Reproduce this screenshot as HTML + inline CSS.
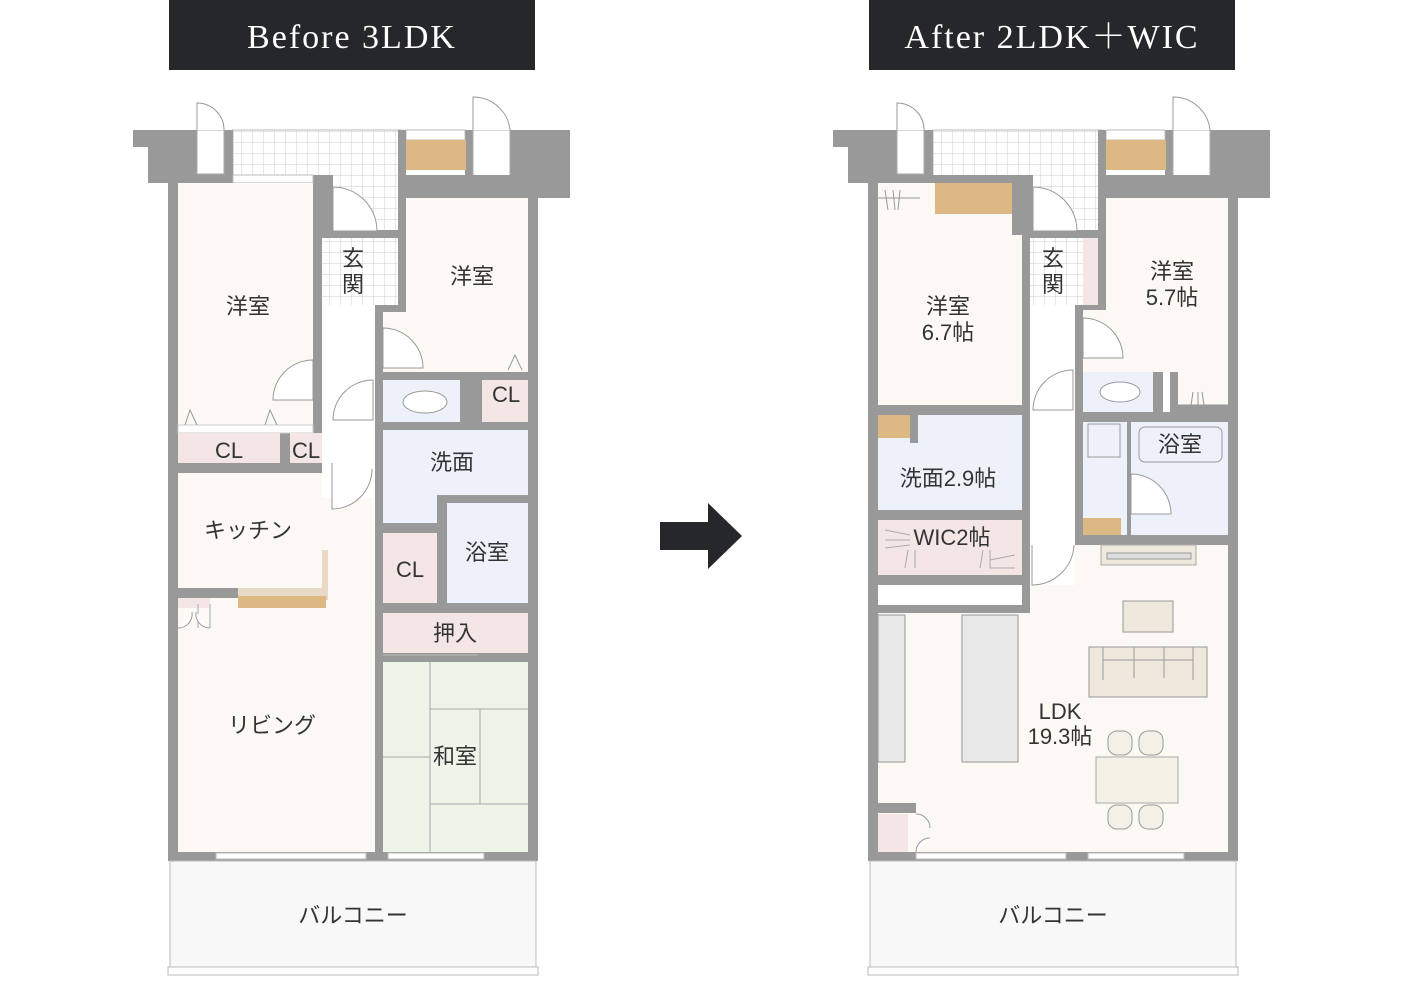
<!DOCTYPE html>
<html><head><meta charset="utf-8"><style>
html,body{margin:0;padding:0;background:#fff}
svg{display:block}
.t{font-family:"Liberation Sans","Noto Sans CJK JP",sans-serif;fill:#333;font-size:22px}
.h{font-family:"Liberation Serif","Noto Serif CJK SC",serif;fill:#fff;font-size:34px;letter-spacing:2px}
</style></head><body>
<svg width="1402" height="996" viewBox="0 0 1402 996" xmlns="http://www.w3.org/2000/svg">
<defs>
<pattern id="tile" width="11" height="11" patternUnits="userSpaceOnUse"><rect width="11" height="11" fill="#fff"/><path d="M11 0V11M0 11H11" stroke="#ccc" stroke-width="1"/></pattern>
<g id="base">
  <rect x="233" y="130" width="170" height="46" fill="url(#tile)" stroke="#bbb"/>
  <path d="M133 130H223V183H148V147H133Z" fill="#999"/>
  <rect x="223" y="130" width="10" height="53" fill="#999"/>
  <rect x="197" y="130" width="27" height="44" fill="#fff" stroke="#aaa"/>
  <path d="M197 130V103A27 27 0 0 1 224 130" fill="#fff" stroke="#999"/>
  <path d="M465 130H570V198H465Z" fill="#999"/>
  <rect x="473" y="130" width="37" height="60" fill="#fff" stroke="#aaa"/>
  <path d="M473 130V97A37 37 0 0 1 510 130" fill="#fff" stroke="#999"/>
  <rect x="406" y="130" width="59" height="10" fill="#fff" stroke="#bbb"/>
  <rect x="168" y="175" width="370" height="686" fill="#999"/>
  <rect x="398" y="130" width="8" height="60" fill="#999"/>
  <rect x="406" y="140" width="60" height="30" fill="#dcb883"/>
  <rect x="333" y="175" width="65" height="55" fill="url(#tile)"/>
  <rect x="170" y="861" width="366" height="106" fill="#f8f8f8" stroke="#bbb"/>
  <rect x="168" y="967" width="370" height="8" fill="#fff" stroke="#bbb"/>
  <text class="t" x="353" y="923" text-anchor="middle">バルコニー</text>
  <rect x="216" y="853" width="150" height="6" fill="#fff" stroke="#bbb"/>
  <rect x="388" y="853" width="96" height="6" fill="#fff" stroke="#bbb"/>
</g>
</defs>

<rect x="169" y="0" width="366" height="70" fill="#25272b"/>
<text class="h" x="352" y="48" text-anchor="middle">Before 3LDK</text>
<rect x="869" y="0" width="366" height="70" fill="#25272b"/>
<text class="h" x="1052" y="48" text-anchor="middle">After 2LDK＋WIC</text>

<path d="M660 522H708V503L742 536L708 569V550H660Z" fill="#25272b"/>

<!-- BEFORE -->
<use href="#base"/>
<g>
  <rect x="233" y="175" width="80" height="8" fill="#fff" stroke="#bbb"/>
  <rect x="178" y="183" width="135" height="242" fill="#fcf8f3"/>
  <rect x="322" y="238" width="76" height="67" fill="url(#tile)"/>
  <rect x="322" y="305" width="53" height="300" fill="#fff"/>
  <path d="M406 198H528V372H383V312H406Z" fill="#fcf8f3"/>
  <rect x="178" y="425" width="135" height="8" fill="#fff" stroke="#ccc"/>
  <rect x="178" y="433" width="102" height="30" fill="#f5e6e6"/>
  <rect x="290" y="433" width="32" height="30" fill="#f5e6e6"/>
  <rect x="383" y="380" width="77" height="42" fill="#edf2fa"/>
  <ellipse cx="425" cy="402" rx="22" ry="11" fill="#fff" stroke="#999"/>
  <rect x="482" y="380" width="46" height="42" fill="#f5e6e6"/>
  <path d="M383 430H528V495H437V523H383Z" fill="#edf2fa"/>
  <rect x="447" y="503" width="81" height="100" fill="#edf2fa"/>
  <rect x="383" y="533" width="54" height="70" fill="#f5e6e6"/>
  <rect x="178" y="473" width="144" height="115" fill="#fcf8f3"/>
  <rect x="322" y="600" width="53" height="252" fill="#fcf8f3"/>
  <rect x="178" y="598" width="195" height="254" fill="#fcf8f3"/>
  <rect x="322" y="498" width="52" height="100" fill="#fcf8f3"/>
  <path d="M238 588H322V550H328V600H238Z" fill="#e8d8c6"/>
  <rect x="238" y="596" width="88" height="12" fill="#dcb883"/>
  <rect x="178" y="598" width="32" height="10" fill="#f5e6e6"/>
  <rect x="383" y="613" width="145" height="40" fill="#f5e6e6"/>
  <rect x="383" y="662" width="145" height="190" fill="#edf4e8"/>
  <g stroke="#aaa" fill="none">
    <path d="M430 662V852M430 709H528M430 757H383M480 709V804M430 804H528"/>
    <path d="M383 655H478" stroke="#bbb"/>
  </g>
  <g fill="#fff" stroke="#999">
    <path d="M333 187A44 44 0 0 1 377 231H333Z"/>
    <path d="M313 360A40 40 0 0 0 273 400H313Z"/>
    <path d="M383 328A40 40 0 0 1 423 368H383Z"/>
    <path d="M373 380A40 40 0 0 0 333 420H373Z"/>
    <path d="M332 463V509A40 40 0 0 0 372 469"/>
  </g>
  <path d="M185 425L190 410L197 425M265 425L270 410L277 425M508 370L515 355L522 370" fill="none" stroke="#999"/>
  <path d="M198 604v24M210 604v24" stroke="#aaa"/>
  <path d="M178 628A14 14 0 0 0 192 612M210 628A14 14 0 0 1 196 612" fill="#fff" stroke="#999"/>
  <text class="t" x="248" y="314" text-anchor="middle">洋室</text>
  <text class="t" x="472" y="284" text-anchor="middle">洋室</text>
  <text class="t" x="353" y="266" text-anchor="middle">玄</text>
  <text class="t" x="353" y="292" text-anchor="middle">関</text>
  <text class="t" x="229" y="458" text-anchor="middle">CL</text>
  <text class="t" x="306" y="458" text-anchor="middle">CL</text>
  <text class="t" x="506" y="402" text-anchor="middle">CL</text>
  <text class="t" x="452" y="470" text-anchor="middle">洗面</text>
  <text class="t" x="487" y="560" text-anchor="middle">浴室</text>
  <text class="t" x="410" y="577" text-anchor="middle">CL</text>
  <text class="t" x="248" y="538" text-anchor="middle">キッチン</text>
  <text class="t" x="455" y="641" text-anchor="middle">押入</text>
  <text class="t" x="272" y="733" text-anchor="middle">リビング</text>
  <text class="t" x="455" y="764" text-anchor="middle">和室</text>
</g>

<!-- AFTER -->
<g transform="translate(700,0)"><use href="#base"/></g>
<g>
  <rect x="878" y="183" width="144" height="222" fill="#fcf8f3"/>
  <rect x="935" y="183" width="77" height="31" fill="#dcb883"/>
  <rect x="1012" y="175" width="18" height="60" fill="#999"/>
  <rect x="1030" y="238" width="68" height="67" fill="url(#tile)"/>
  <rect x="1083" y="238" width="15" height="67" fill="#f5e6e6"/>
  <rect x="1030" y="305" width="45" height="280" fill="#fff"/>
  <path d="M1106 198H1228V405H1178V372H1083V310H1106Z" fill="#fcf8f3"/>
  <rect x="1083" y="372" width="70" height="40" fill="#edf2fa"/>
  <ellipse cx="1120" cy="392" rx="20" ry="10" fill="#fff" stroke="#999"/>
  <rect x="1163" y="372" width="7" height="40" fill="#fff"/>
  <rect x="878" y="415" width="144" height="95" fill="#edf2fa"/>
  <rect x="878" y="415" width="32" height="23" fill="#dcb883"/>
  <rect x="910" y="415" width="8" height="28" fill="#999"/>
  <rect x="878" y="520" width="144" height="55" fill="#f5e6e6"/>
  <rect x="878" y="585" width="144" height="20" fill="#fff"/>
  <rect x="1083" y="422" width="44" height="113" fill="#edf2fa"/>
  <rect x="1088" y="424" width="32" height="33" fill="none" stroke="#999"/>
  <rect x="1083" y="518" width="38" height="17" fill="#dcb883"/>
  <rect x="1131" y="422" width="97" height="113" fill="#edf2fa"/>
  <rect x="1139" y="427" width="83" height="35" rx="6" fill="none" stroke="#999"/>
  <path d="M1030 585H1075V545H1228V852H878V613H1030Z" fill="#fcf8f3"/>
  <rect x="878" y="615" width="27" height="147" fill="#e8e8e8" stroke="#999"/>
  <rect x="962" y="615" width="56" height="147" fill="#e8e8e8" stroke="#999"/>
  <rect x="878" y="814" width="30" height="38" fill="#f5e6e6"/>
  <rect x="868" y="803" width="48" height="10" fill="#999"/>
  <rect x="1101" y="545" width="95" height="20" fill="#efe8dc" stroke="#aaa"/>
  <rect x="1107" y="553" width="84" height="6" fill="#ddd" stroke="#999"/>
  <rect x="1123" y="601" width="50" height="31" fill="#efe8dc" stroke="#999"/>
  <rect x="1089" y="647" width="118" height="50" fill="#efe8dc" stroke="#999"/>
  <path d="M1103 647V680M1193 647V680M1134 647V678M1164 647V678M1103 660H1193" stroke="#999"/>
  <rect x="1096" y="757" width="82" height="46" fill="#f3f1e6" stroke="#aaa"/>
  <g fill="#f3f1e6" stroke="#999">
    <rect x="1108" y="731" width="24" height="24" rx="9"/><rect x="1139" y="731" width="24" height="24" rx="9"/>
    <rect x="1108" y="805" width="24" height="24" rx="9"/><rect x="1139" y="805" width="24" height="24" rx="9"/>
  </g>
  <g fill="#fff" stroke="#999">
    <path d="M1083 318A40 40 0 0 1 1123 358H1083Z"/>
    <path d="M1073 370A40 40 0 0 0 1033 410H1073Z"/>
    <path d="M1033 187A44 44 0 0 1 1077 231H1033Z"/>
    <path d="M1131 474A40 40 0 0 1 1171 514H1131Z"/>
    <path d="M1032 545V585A42 42 0 0 0 1074 545"/>
    <path d="M916 814A14 14 0 0 1 930 828M916 852A14 14 0 0 1 930 838"/>
  </g>
  <path d="M885 190l3 20M893 190l2 20M900 190l-2 20M1190 412l3-20M1198 412l0-20M1205 412l-3-20M878 198H920M1178 405H1228" stroke="#999" fill="none"/>
  <path d="M885 530l25 5M885 540l25 0M885 548l25-3M905 568l3-18M915 568l0-18M980 568l3-18M990 568l0-18M990 560l25-5M990 568l25 0" stroke="#aaa"/>
  <text class="t" x="948" y="314" text-anchor="middle">洋室</text>
  <text class="t" x="948" y="340" text-anchor="middle">6.7帖</text>
  <text class="t" x="1172" y="279" text-anchor="middle">洋室</text>
  <text class="t" x="1172" y="305" text-anchor="middle">5.7帖</text>
  <text class="t" x="1053" y="266" text-anchor="middle">玄</text>
  <text class="t" x="1053" y="292" text-anchor="middle">関</text>
  <text class="t" x="948" y="486" text-anchor="middle">洗面2.9帖</text>
  <text class="t" x="952" y="545" text-anchor="middle">WIC2帖</text>
  <text class="t" x="1180" y="452" text-anchor="middle">浴室</text>
  <text class="t" x="1060" y="719" text-anchor="middle">LDK</text>
  <text class="t" x="1060" y="744" text-anchor="middle">19.3帖</text>
</g>
</svg>
</body></html>
